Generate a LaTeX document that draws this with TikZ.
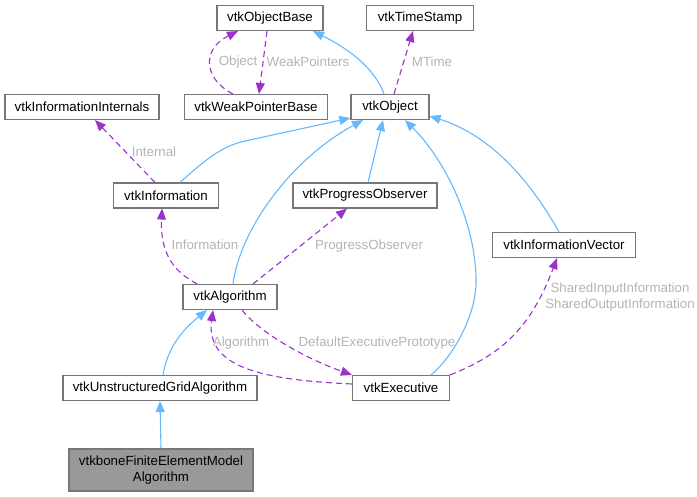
\documentclass[tikz,border=0pt]{standalone}
\usepackage{fontspec}
\setmainfont{Liberation Sans}
\usetikzlibrary{arrows.meta}
\definecolor{inhc}{HTML}{63B8FF}
\definecolor{usec}{HTML}{9A32CD}
\definecolor{lblc}{HTML}{B4B4B4}
\definecolor{bordc}{HTML}{777777}
\definecolor{curc}{HTML}{999999}
\begin{document}
\begin{tikzpicture}[x=1pt,y=-1pt,
  font=\fontsize{13.3}{15.5}\selectfont,
  box/.style={draw=bordc, line width=1.1pt, fill=white, minimum height=25pt, inner sep=0pt, anchor=center},
  inhedge/.style={draw=inhc, line width=1.1pt, -{Triangle[length=11pt,width=9pt]}},
  useedge/.style={draw=usec, line width=1.1pt, dash pattern=on 6pt off 4pt, -{Triangle[length=11pt,width=9pt]}},
  lab/.style={text=lblc, inner sep=0pt, align=center}]
\useasboundingbox (0,0) rectangle (697,496);

\node[box, minimum width=106pt] (ob) at (270,18) {vtkObjectBase};
\node[box, minimum width=107pt] (ts) at (420,18) {vtkTimeStamp};
\node[box, minimum width=143pt] (wpb) at (256,107) {vtkWeakPointerBase};
\node[box, minimum width=78pt] (obj) at (390,107) {vtkObject};
\node[box, minimum width=154pt] (ii) at (82,107) {vtkInformationInternals};
\node[box, minimum width=105pt] (info) at (166,195.5) {vtkInformation};
\node[box, minimum width=144pt] (po) at (365,195.5) {vtkProgressObserver};
\node[box, minimum width=143pt] (iv) at (564,245) {vtkInformationVector};
\node[box, minimum width=94pt] (alg) at (230,297) {vtkAlgorithm};
\node[box, minimum width=194pt] (uga) at (160,388) {vtkUnstructuredGridAlgorithm};
\node[box, minimum width=97pt] (exe) at (401,388) {vtkExecutive};
\node[box, minimum width=184pt, minimum height=42pt, fill=curc, align=center] (fem) at (161,470) {vtkboneFiniteElementModel\\Algorithm};

% inheritance
\draw[inhedge] ([xshift=-6pt]obj.north) .. controls (376,72) and (355,52) .. ([xshift=43pt]ob.south);
\draw[inhedge] ([xshift=14pt]info.north) .. controls (205,160) and (222,146) .. (245,141) -- ([yshift=2pt]obj.south west);
\draw[inhedge] ([xshift=3pt]alg.north) .. controls (240,230) and (290,160) .. ([xshift=-27pt]obj.south);
\draw[inhedge] ([xshift=3pt]po.north) -- ([xshift=-7pt]obj.south);
\draw[inhedge] ([xshift=30pt]exe.north) .. controls (455,355) and (477,312) .. (476,280) .. controls (476,230) and (450,165) .. ([xshift=15pt]obj.south);
\draw[inhedge] ([xshift=-5pt]iv.north) .. controls (530,180) and (490,135) .. ([yshift=-9pt]obj.east);
\draw[inhedge] ([xshift=3pt]uga.north) .. controls (168,345) and (185,328) .. ([xshift=-23pt]alg.south);
\draw[inhedge] (fem.north) -- (uga.south);

% usage
\draw[useedge] ([xshift=-23pt]wpb.north) .. controls (205,80) and (200,50) .. ([xshift=-32pt]ob.south);
\draw[useedge] ([xshift=-3pt]ob.south) -- ([xshift=3pt]wpb.north);
\draw[useedge] ([xshift=4pt]obj.north) -- ([xshift=-7pt]ts.south);
\draw[useedge] ([xshift=-11pt]info.north) -- ([xshift=13pt]ii.south);
\draw[useedge] ([xshift=-33pt]alg.north) .. controls (175,272) and (160,255) .. ([xshift=-4pt]info.south);
\draw[useedge] ([xshift=23pt]alg.north) -- ([xshift=-18pt]po.south);
\draw[useedge] ([xshift=12pt]alg.south) .. controls (262,335) and (310,360) .. (exe.north west);
\draw[useedge] ([yshift=4pt]exe.west) .. controls (270,380) and (205,370) .. ([xshift=-17pt]alg.south);
\draw[useedge] (exe.north east) .. controls (500,355) and (530,330) .. ([xshift=-7pt]iv.south);

% labels
\node[lab] (lObject) at (238,62) {Object};
\node[lab] (lWeak) at (308,62) {WeakPointers};
\node[lab] (lMTime) at (432,62) {MTime};
\node[lab] (lInternal) at (154,152) {Internal};
\node[lab] (lInfo) at (205,245) {Information};
\node[lab] (lPO) at (369,246) {ProgressObserver};
\node[lab] (lShared) at (620,297) {SharedInputInformation\\SharedOutputInformation};
\node[lab] (lAlg) at (241,343) {Algorithm};
\node[lab] (lDEP) at (377,343) {DefaultExecutivePrototype};
\end{tikzpicture}
\end{document}
